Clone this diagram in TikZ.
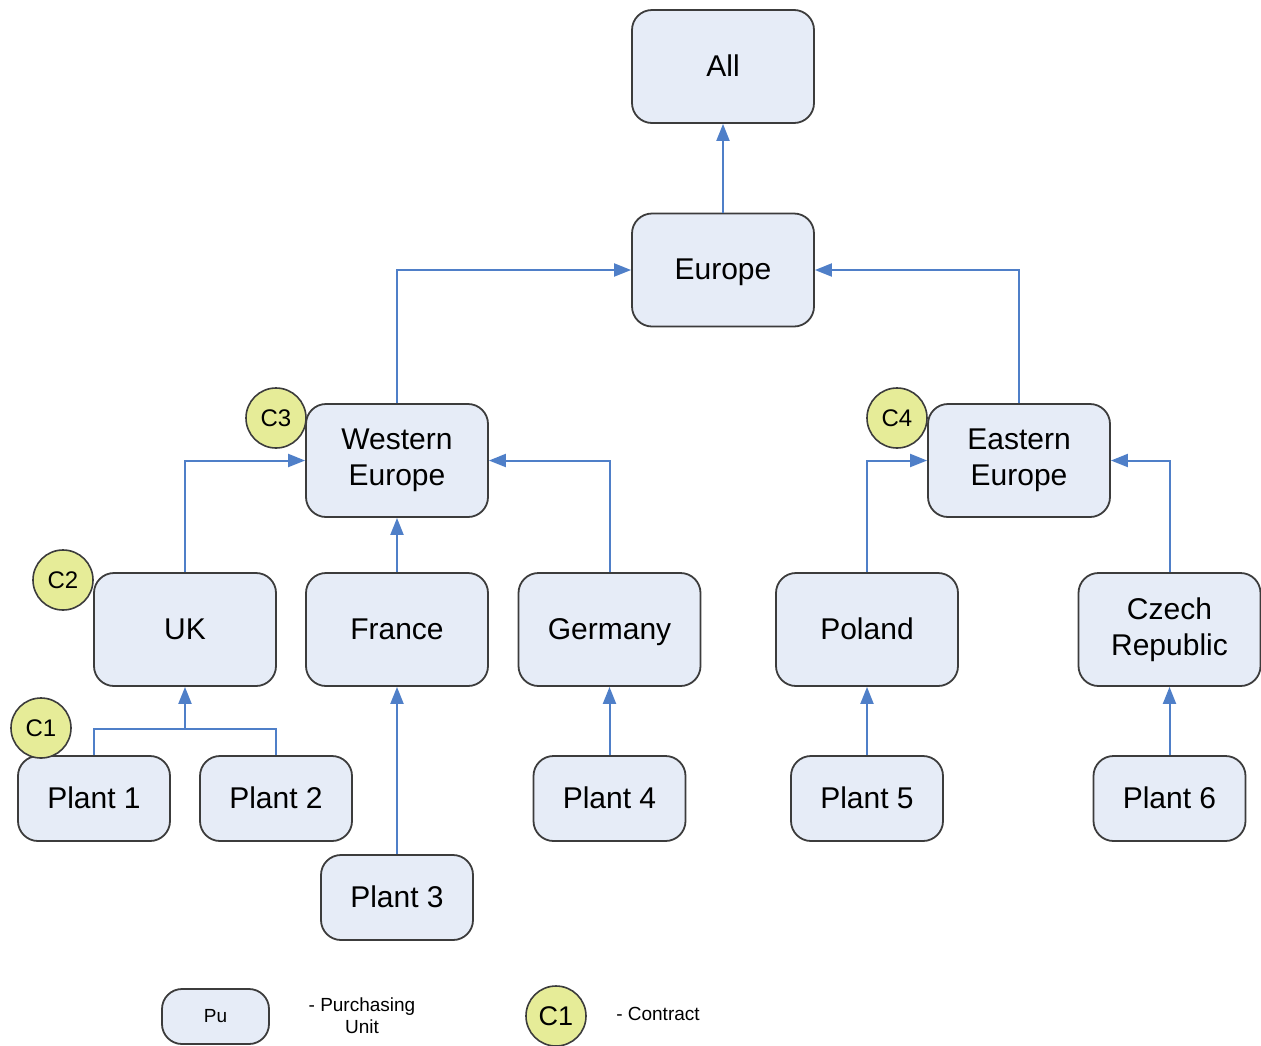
\documentclass[tikz,border=0pt]{standalone}
\usepackage{fontspec}
\setmainfont{Liberation Sans}
\usetikzlibrary{arrows.meta,positioning}
\definecolor{puInk}{HTML}{3C3C3C}
\definecolor{puFill}{HTML}{E6ECF7}
\definecolor{puBlue}{HTML}{4F7FC8}
\definecolor{ctFill}{HTML}{E6EC98}
\tikzset{
  box/.style      ={draw=puInk,line width=1.8pt,rounded corners=20pt,fill=puFill,
                    text=black,align=center,inner sep=2pt},
  unitbox/.style  ={box,minimum width=182pt,minimum height=113pt,
                    font=\fontsize{30}{36}\selectfont},
  plantbox/.style ={box,minimum width=152pt,minimum height=85pt,
                    font=\fontsize{30}{36}\selectfont},
  oneline/.style  ={text height=22pt,text depth=3pt},
  legbox/.style   ={box,minimum width=107pt,minimum height=55pt,
                    font=\fontsize{19}{22}\selectfont},
  contract/.style ={circle,draw=puInk,line width=1.6pt,fill=ctFill,minimum size=60pt,
                    inner sep=0pt,font=\fontsize{24}{28}\selectfont},
  flow/.style     ={-{Triangle[length=17pt,width=13pt]},puBlue,line width=2pt},
  link/.style     ={puBlue,line width=2pt},
  lbl/.style      ={font=\fontsize{19}{22}\selectfont,align=center,text=black},
}
\begin{document}
\begin{tikzpicture}[x=1pt,y=-1pt]
\useasboundingbox (0,0) rectangle (1261,1045);

% ── regions ────────────────────────────────────────────────────────────────
\node[unitbox,oneline] (all)    at (723,66.5)   {All};
\node[unitbox,oneline] (europe) at (723,270)    {Europe};
\node[unitbox] (weur)           at (397,460.5)  {Western\\Europe};
\node[unitbox] (eeur)           at (1019,460.5) {Eastern\\Europe};

% ── countries ──────────────────────────────────────────────────────────────
\node[unitbox,oneline] (uk)      at (185,629.5)   {UK};
\node[unitbox,oneline] (france)  at (397,629.5)   {France};
\node[unitbox,oneline] (germany) at (609.5,629.5) {Germany};
\node[unitbox,oneline] (poland)  at (867,629.5)   {Poland};
\node[unitbox] (czech)           at (1169.5,629.5) {Czech\\Republic};

% ── plants ─────────────────────────────────────────────────────────────────
\node[plantbox,oneline] (p1) at (94,798.5)     {Plant 1};
\node[plantbox,oneline] (p2) at (276,798.5)    {Plant 2};
\node[plantbox,oneline] (p3) at (397,897.5)    {Plant 3};
\node[plantbox,oneline] (p4) at (609.5,798.5)  {Plant 4};
\node[plantbox,oneline] (p5) at (867,798.5)    {Plant 5};
\node[plantbox,oneline] (p6) at (1169.5,798.5) {Plant 6};

% ── connectors ─────────────────────────────────────────────────────────────
\draw[flow] (europe) -- (all);
\draw[flow] (weur.north) |- (europe.west);
\draw[flow] (eeur.north) |- (europe.east);
\draw[flow] (uk.north) |- (weur.west);
\draw[flow] (france) -- (weur);
\draw[flow] (germany.north) |- (weur.east);
\draw[flow] (poland.north) |- (eeur.west);
\draw[flow] (czech.north) |- (eeur.east);
\coordinate (ukjoin) at (185,729);
\draw[link] (p1.north) |- (ukjoin) -| (p2.north);
\draw[flow] (ukjoin) -- (uk.south);
\draw[flow] (p3) -- (france);
\draw[flow] (p4) -- (germany);
\draw[flow] (p5) -- (poland);
\draw[flow] (p6) -- (czech);

% ── contracts ──────────────────────────────────────────────────────────────
\node[contract] (c1) at (41,728)  {C1};
\node[contract] (c2) at (63,580)  {C2};
\node[contract] (c3) at (276,418) {C3};
\node[contract] (c4) at (897,418) {C4};

% ── legend ─────────────────────────────────────────────────────────────────
\node[legbox] (legpu) at (215.5,1016.5) {Pu};
\node[lbl] (legputxt) at (362,1016) {- Purchasing\\Unit};
\node[contract,font=\fontsize{27}{30}\selectfont] (legc) at (556,1016) {C1};
\node[lbl] (legctxt) at (658,1014) {- Contract};
\end{tikzpicture}
\end{document}
